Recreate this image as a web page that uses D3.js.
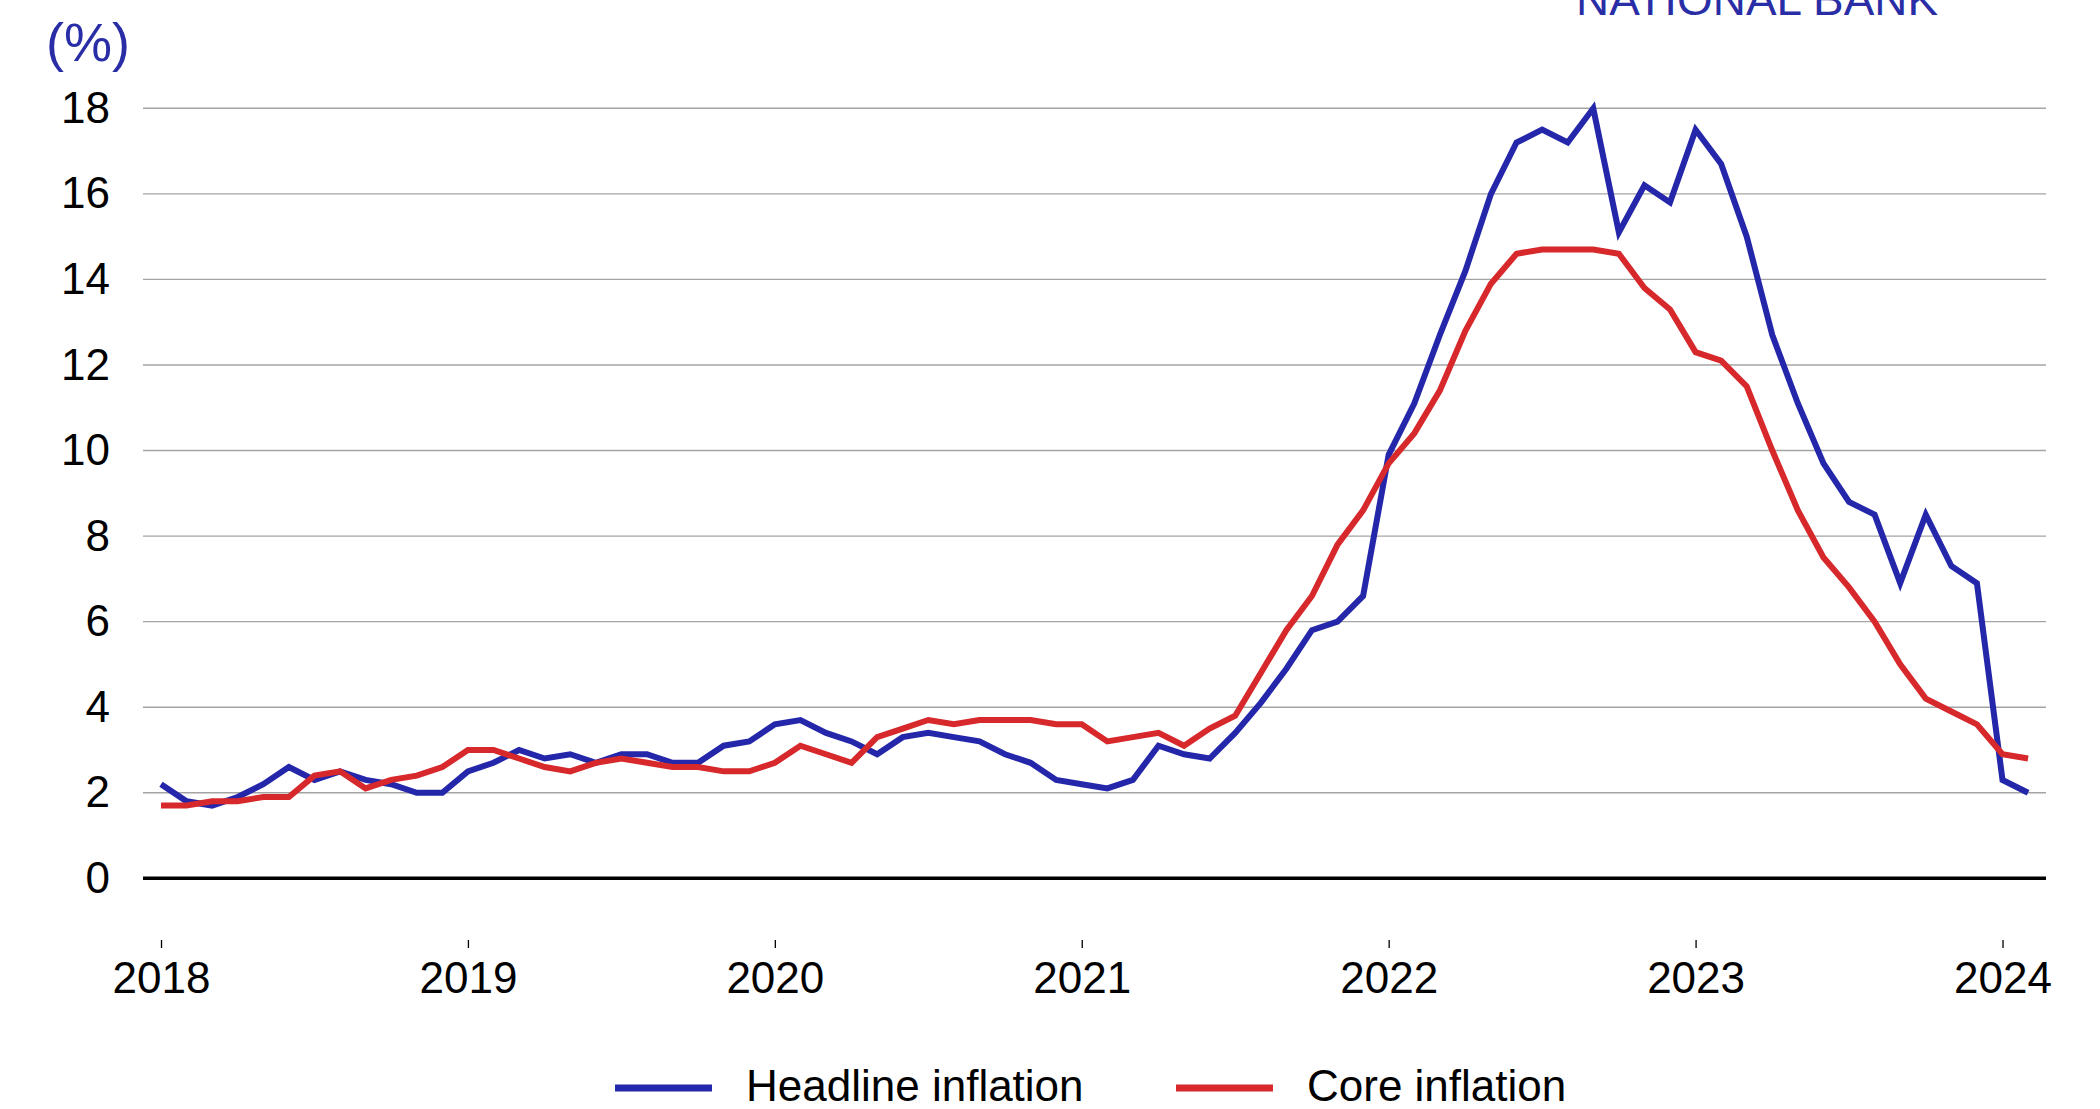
<!DOCTYPE html>
<html>
<head>
<meta charset="utf-8">
<script src="https://cdn.jsdelivr.net/npm/d3@7"></script>
<style>
  html, body { margin: 0; padding: 0; background: #ffffff; }
  svg { display: block; font-family: "Liberation Sans", Arial, Helvetica, sans-serif; }
</style>
</head>
<body>
<svg id="chart" width="2100" height="1109"></svg>
<script>
// Year-on-year inflation, monthly, January 2018 – February 2024 (%)
const startYear = 2018;
const yearTicks = [2018, 2019, 2020, 2021, 2022, 2023, 2024];
const yTicks = [0, 2, 4, 6, 8, 10, 12, 14, 16, 18];

const headline = [
  2.2, 1.8, 1.7, 1.9, 2.2, 2.6, 2.3, 2.5, 2.3, 2.2, 2.0, 2.0,       // 2018
  2.5, 2.7, 3.0, 2.8, 2.9, 2.7, 2.9, 2.9, 2.7, 2.7, 3.1, 3.2,       // 2019
  3.6, 3.7, 3.4, 3.2, 2.9, 3.3, 3.4, 3.3, 3.2, 2.9, 2.7, 2.3,       // 2020
  2.2, 2.1, 2.3, 3.1, 2.9, 2.8, 3.4, 4.1, 4.9, 5.8, 6.0, 6.6,       // 2021
  9.9, 11.1, 12.7, 14.2, 16.0, 17.2, 17.5, 17.2, 18.0, 15.1, 16.2, 15.8, // 2022
  17.5, 16.7, 15.0, 12.7, 11.1, 9.7, 8.8, 8.5, 6.9, 8.5, 7.3, 6.9,  // 2023
  2.3, 2.0                                                          // 2024
];

const core = [
  1.7, 1.7, 1.8, 1.8, 1.9, 1.9, 2.4, 2.5, 2.1, 2.3, 2.4, 2.6,       // 2018
  3.0, 3.0, 2.8, 2.6, 2.5, 2.7, 2.8, 2.7, 2.6, 2.6, 2.5, 2.5,       // 2019
  2.7, 3.1, 2.9, 2.7, 3.3, 3.5, 3.7, 3.6, 3.7, 3.7, 3.7, 3.6,       // 2020
  3.6, 3.2, 3.3, 3.4, 3.1, 3.5, 3.8, 4.8, 5.8, 6.6, 7.8, 8.6,       // 2021
  9.7, 10.4, 11.4, 12.8, 13.9, 14.6, 14.7, 14.7, 14.7, 14.6, 13.8, 13.3, // 2022
  12.3, 12.1, 11.5, 10.0, 8.6, 7.5, 6.8, 6.0, 5.0, 4.2, 3.9, 3.6,   // 2023
  2.9, 2.8                                                          // 2024
];

const seriesNames = ["Headline inflation", "Core inflation"];
const seriesColors = ["#2427a9", "#d7282b"];

const svg = d3.select("#chart");

// Scales: x runs over month index (0 = Jan 2018), y in percent
const x = d3.scaleLinear().domain([0, 72]).range([161, 2002.5]);
const y = d3.scaleLinear().domain([0, 18]).range([878.3, 108.3]);
const gridLeft = 143, gridRight = 2046;

// Horizontal gridlines
svg.append("g")
  .selectAll("line")
  .data(yTicks.filter(d => d !== 0))
  .join("line")
  .attr("x1", gridLeft).attr("x2", gridRight)
  .attr("y1", d => y(d)).attr("y2", d => y(d))
  .attr("stroke", "#a4a4a4")
  .attr("stroke-width", 1.4);

// Y axis labels
const yAxis = svg.append("g")
  .attr("transform", `translate(${gridLeft},0)`)
  .call(d3.axisLeft(y).tickValues(yTicks).tickSize(0).tickPadding(33));
yAxis.select(".domain").remove();
yAxis.selectAll("text")
  .attr("font-size", 44)
  .attr("font-family", "Liberation Sans, Arial, sans-serif")
  .attr("fill", "#000");

// Unit label
svg.append("text")
  .attr("x", 46).attr("y", 61)
  .attr("font-size", 54)
  .attr("fill", "#2a2ea6")
  .text("(%)");

// Brand text at the top edge
svg.append("text")
  .attr("x", 1576).attr("y", 15)
  .attr("font-size", 45)
  .attr("fill", "#2a2ea6")
  .attr("textLength", 362)
  .attr("lengthAdjust", "spacingAndGlyphs")
  .text("NATIONAL BANK");

// X axis: short ticks and year labels
const xAxis = svg.append("g")
  .attr("transform", "translate(0,940)")
  .call(d3.axisBottom(x)
    .tickValues(yearTicks.map(yr => (yr - startYear) * 12))
    .tickFormat(d => String(startYear + d / 12))
    .tickSize(8));
xAxis.select(".domain").remove();
xAxis.selectAll("line").attr("stroke", "#000").attr("stroke-width", 1.3);
xAxis.selectAll("text")
  .attr("y", 53).attr("dy", null)
  .attr("font-size", 44)
  .attr("font-family", "Liberation Sans, Arial, sans-serif")
  .attr("fill", "#000");

// Lines
const line = d3.line()
  .x((d, i) => x(i))
  .y(d => y(d));

[headline, core].forEach((series, k) => {
  svg.append("path")
    .datum(series)
    .attr("d", line)
    .attr("fill", "none")
    .attr("stroke", seriesColors[k])
    .attr("stroke-width", 6)
    .attr("stroke-linejoin", "miter")
    .attr("stroke-miterlimit", 4);
});

// Zero baseline
svg.append("line")
  .attr("x1", gridLeft).attr("x2", gridRight)
  .attr("y1", y(0)).attr("y2", y(0))
  .attr("stroke", "#000")
  .attr("stroke-width", 3.4);

// Legend
const legendItems = [
  { name: seriesNames[0], color: seriesColors[0], x: 615 },
  { name: seriesNames[1], color: seriesColors[1], x: 1176 }
];
const legend = svg.append("g");
legendItems.forEach(item => {
  legend.append("line")
    .attr("x1", item.x).attr("x2", item.x + 97)
    .attr("y1", 1088).attr("y2", 1088)
    .attr("stroke", item.color)
    .attr("stroke-width", 7);
  legend.append("text")
    .attr("x", item.x + 131).attr("y", 1101)
    .attr("font-size", 44)
    .attr("fill", "#000")
    .text(item.name);
});
</script>
</body>
</html>
